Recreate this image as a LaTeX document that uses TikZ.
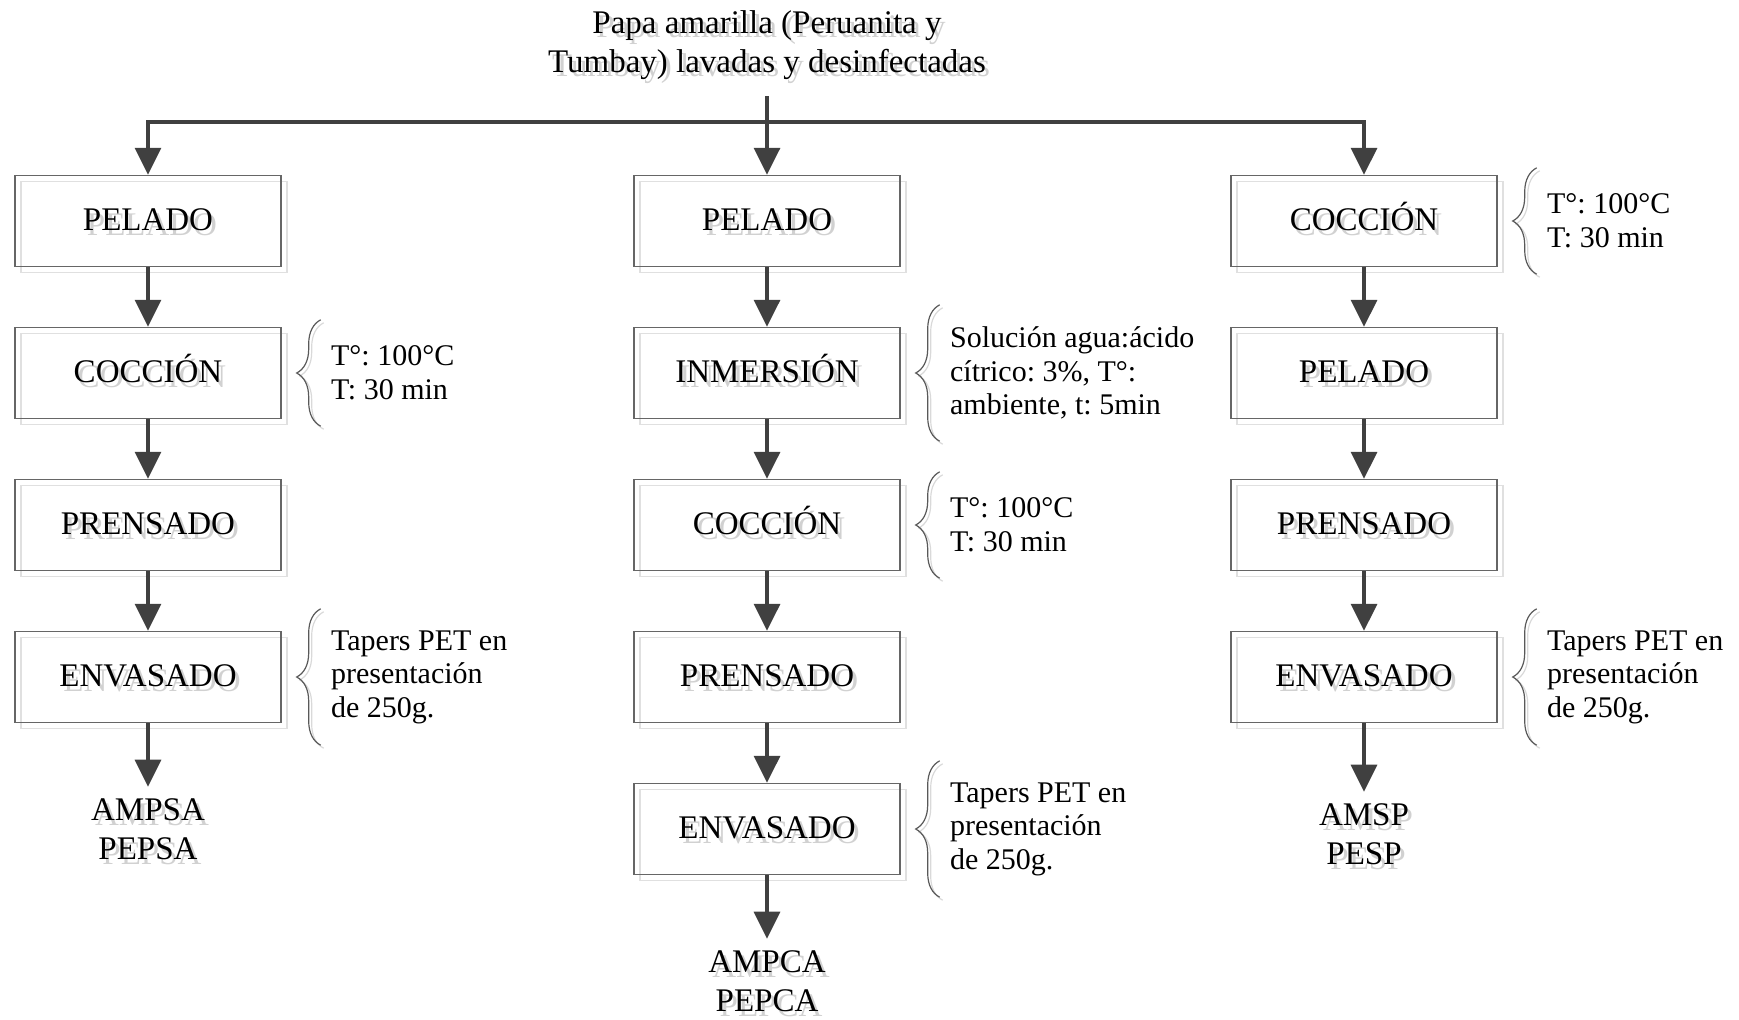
\documentclass[tikz,border=0pt]{standalone}
\usepackage{fontspec}
\setmainfont{Liberation Serif}
\usetikzlibrary{arrows.meta,shadows,decorations.pathreplacing}
% gray copy of a text, set a little lower and to the right
\newcommand{\shd}[1]{\rlap{\kern2pt\raisebox{-2.3pt}{\textcolor{black!18}{#1}}}#1}
\frenchspacing

\begin{document}
\begin{tikzpicture}[x=0.5pt,y=-0.5pt]
	\def \colone{148}
	\def \coltwo{767}
	\def \colthree{1364}
	\def \busline{122}
	\def \rowone{221}
	\def \rowtwo{373}
	\def \rowthree{525}
	\def \rowfour{677}
	\def \rowfive{829}

	\tikzstyle{step-box}=[rectangle,draw=black!60,line width=0.7pt,minimum width=133pt,minimum height=45.5pt,text height=9.5pt,text depth=0pt,font=\fontsize{16.5}{19.5}\selectfont,drop shadow={shadow xshift=3pt,shadow yshift=-3pt,fill=none,draw=black!12,opacity=1}]
	\tikzstyle{caption}=[align=center,inner sep=6pt,font=\fontsize{16.5}{19.5}\selectfont]
	\tikzstyle{note}=[anchor=west,align=left,inner sep=0pt,font=\fontsize{15}{16.8}\selectfont]
	\tikzstyle{flow}=[draw=black!75,line width=1.7pt,-{Triangle[length=13.5pt,width=13pt]}]
	\tikzstyle{bus-line}=[draw=black!75,line width=1.7pt,line cap=rect]
	\tikzstyle{note-brace}=[draw=black!65,line width=0.6pt,decorate,decoration={brace,amplitude=12pt}]
	\tikzstyle{brace-shade}=[draw=black!15,line width=0.6pt,decorate,decoration={brace,amplitude=12pt},transform canvas={shift={(1.5pt,-1.5pt)}}]

	\useasboundingbox (0,0) rectangle (1739,1019);

	% raw material
	\node[caption] (title) at (\coltwo,47) {\shd{Papa amarilla (Peruanita y}\\\shd{Tumbay) lavadas y desinfectadas}};
	\coordinate (bus) at (\coltwo,\busline);

	% column 1
	\node[step-box] (pel1) at (\colone,\rowone)   {\shd{PELADO}};
	\node[step-box] (coc1) at (\colone,\rowtwo)   {\shd{COCCIÓN}};
	\node[step-box] (pre1) at (\colone,\rowthree) {\shd{PRENSADO}};
	\node[step-box] (env1) at (\colone,\rowfour)  {\shd{ENVASADO}};
	\node[caption]  (prod1) at (\colone,832)      {\shd{AMPSA}\\\shd{PEPSA}};

	% column 2
	\node[step-box] (pel2) at (\coltwo,\rowone)   {\shd{PELADO}};
	\node[step-box] (inm2) at (\coltwo,\rowtwo)   {\shd{INMERSIÓN}};
	\node[step-box] (coc2) at (\coltwo,\rowthree) {\shd{COCCIÓN}};
	\node[step-box] (pre2) at (\coltwo,\rowfour)  {\shd{PRENSADO}};
	\node[step-box] (env2) at (\coltwo,\rowfive)  {\shd{ENVASADO}};
	\node[caption]  (prod2) at (\coltwo,984)      {\shd{AMPCA}\\\shd{PEPCA}};

	% column 3
	\node[step-box] (coc3) at (\colthree,\rowone)   {\shd{COCCIÓN}};
	\node[step-box] (pel3) at (\colthree,\rowtwo)   {\shd{PELADO}};
	\node[step-box] (pre3) at (\colthree,\rowthree) {\shd{PRENSADO}};
	\node[step-box] (env3) at (\colthree,\rowfour)  {\shd{ENVASADO}};
	\node[caption]  (prod3) at (\colthree,837)      {\shd{AMSP}\\\shd{PESP}};

	% conditions
	\node[note] (nc1) at ([xshift=24.5pt]coc1.east) {T°: 100°C\\T: 30 min};
	\node[note] (ne1) at ([xshift=24.5pt]env1.east) {Tapers PET en\\presentación\\de 250g.};
	\node[note] (ni2) at ([xshift=24.5pt]inm2.east) {Solución agua:ácido\\cítrico: 3\%, T°:\\ambiente, t: 5min};
	\node[note] (nc2) at ([xshift=24.5pt]coc2.east) {T°: 100°C\\T: 30 min};
	\node[note] (ne2) at ([xshift=24.5pt]env2.east) {Tapers PET en\\presentación\\de 250g.};
	\node[note] (nc3) at ([xshift=24.5pt]coc3.east) {T°: 100°C\\T: 30 min};
	\node[note] (ne3) at ([xshift=24.5pt]env3.east) {Tapers PET en\\presentación\\de 250g.};

	\foreach \b/\ext in {coc1/3.5pt,env1/11pt,inm2/11pt,coc2/3.5pt,env2/11pt,coc3/3.5pt,env3/11pt}{
		\draw[brace-shade] ([shift={(19.5pt,-\ext)}]\b.south east) -- ([shift={(19.5pt,\ext)}]\b.north east);
		\draw[note-brace] ([shift={(19.5pt,-\ext)}]\b.south east) -- ([shift={(19.5pt,\ext)}]\b.north east);
	}

	% connectors
	\draw[bus-line] (pel1 |- bus) -- (coc3 |- bus);
	\path[every edge/.style={flow}]
		(title) edge (pel2)
		(pel1 |- bus) edge (pel1)
		(coc3 |- bus) edge (coc3)
		%
		(pel1) edge (coc1)
		(coc1) edge (pre1)
		(pre1) edge (env1)
		(env1) edge (prod1)
		%
		(pel2) edge (inm2)
		(inm2) edge (coc2)
		(coc2) edge (pre2)
		(pre2) edge (env2)
		(env2) edge (prod2)
		%
		(coc3) edge (pel3)
		(pel3) edge (pre3)
		(pre3) edge (env3)
		(env3) edge (prod3);

\end{tikzpicture}
\end{document}
